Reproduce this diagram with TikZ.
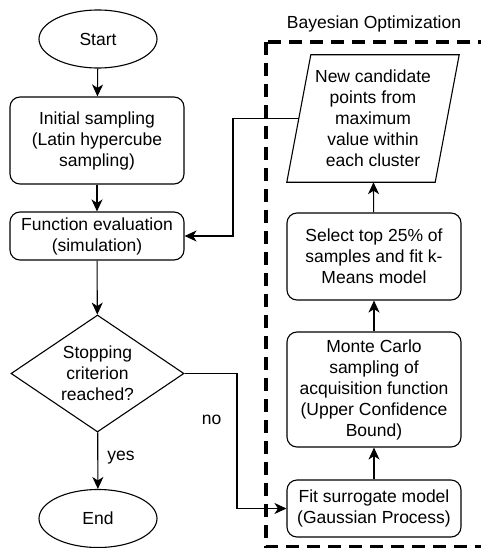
\documentclass[tikz,border=0pt]{standalone}
\usepackage{fontspec}
\setmainfont{Liberation Sans}
\usetikzlibrary{shapes.geometric,arrows.meta}
\begin{document}
\begin{tikzpicture}[x=1pt,y=-1pt,
 every node/.style={font=\fontsize{17.5}{21}\selectfont, align=center, inner sep=0pt},
 box/.style={draw, rounded corners=10pt, line width=1.1pt, minimum width=174pt},
 term/.style={draw, ellipse, line width=1.1pt, minimum width=118pt, minimum height=58pt},
 arr/.style={line width=1.1pt, -{Stealth[length=12pt,width=11pt,inset=3.5pt]}},
 ln/.style={line width=1.1pt}]
\useasboundingbox (0,0) rectangle (481,548);
\fill[white] (0,0) rectangle (481,548);
% left column
\node[term] (start) at (98,39) {Start};
\node[box, minimum height=87pt] (init) at (97,140.5) {Initial sampling\\(Latin hypercube\\sampling)};
\node[box, minimum height=48pt] (feval) at (97,236) {Function evaluation\\(simulation)};
\node[draw, diamond, line width=1.1pt, minimum width=173pt, minimum height=117pt, aspect=1.48] (stop) at (97.5,373.5) {Stopping\\criterion\\reached?};
\node[term] (end) at (98,518.5) {End};
% right column
\node[minimum width=148pt, minimum height=127pt] (newc) at (373,118.5) {New candidate\\points from\\maximum\\value within\\each cluster};
\draw[ln] ([xshift=-12pt]newc.south west) -- ([xshift=-12pt]newc.south east) -- ([xshift=12pt]newc.north east) -- ([xshift=12pt]newc.north west) -- cycle;
\node[box, minimum height=87pt] (sel) at (374,256.5) {Select top 25\% of\\samples and fit k-\\Means model};
\node[box, minimum height=115pt] (mc) at (374,389.5) {Monte Carlo\\sampling of\\acquisition function\\(Upper Confidence\\Bound)};
\node[box, minimum height=57pt] (fit) at (374,508.5) {Fit surrogate model\\(Gaussian Process)};
% dashed group
\draw[line width=4pt, dash pattern=on 13pt off 8pt] (266,42) rectangle (482.6,547);
\node (bo) at (374,24) {Bayesian Optimization};
% connectors
\draw[arr] (start) -- (init);
\draw[arr] (init) -- (feval);
\draw[arr] (feval) -- (stop);
\draw[arr] (stop) -- node[pos=0.45, anchor=west, xshift=9pt] {yes} (end);
\coordinate (nobend) at (237,373.5);
\draw[arr] (stop.east) -- (nobend) |- node[pos=0.17, anchor=east, xshift=-15pt] {no} (fit.west);
\draw[arr] (fit) -- (mc);
\draw[arr] (mc) -- (sel);
\draw[arr] (sel) -- (newc);
\coordinate (back) at (233,118.5);
\draw[arr] (newc.west) -- (back) |- (feval.east);
\end{tikzpicture}
\end{document}
